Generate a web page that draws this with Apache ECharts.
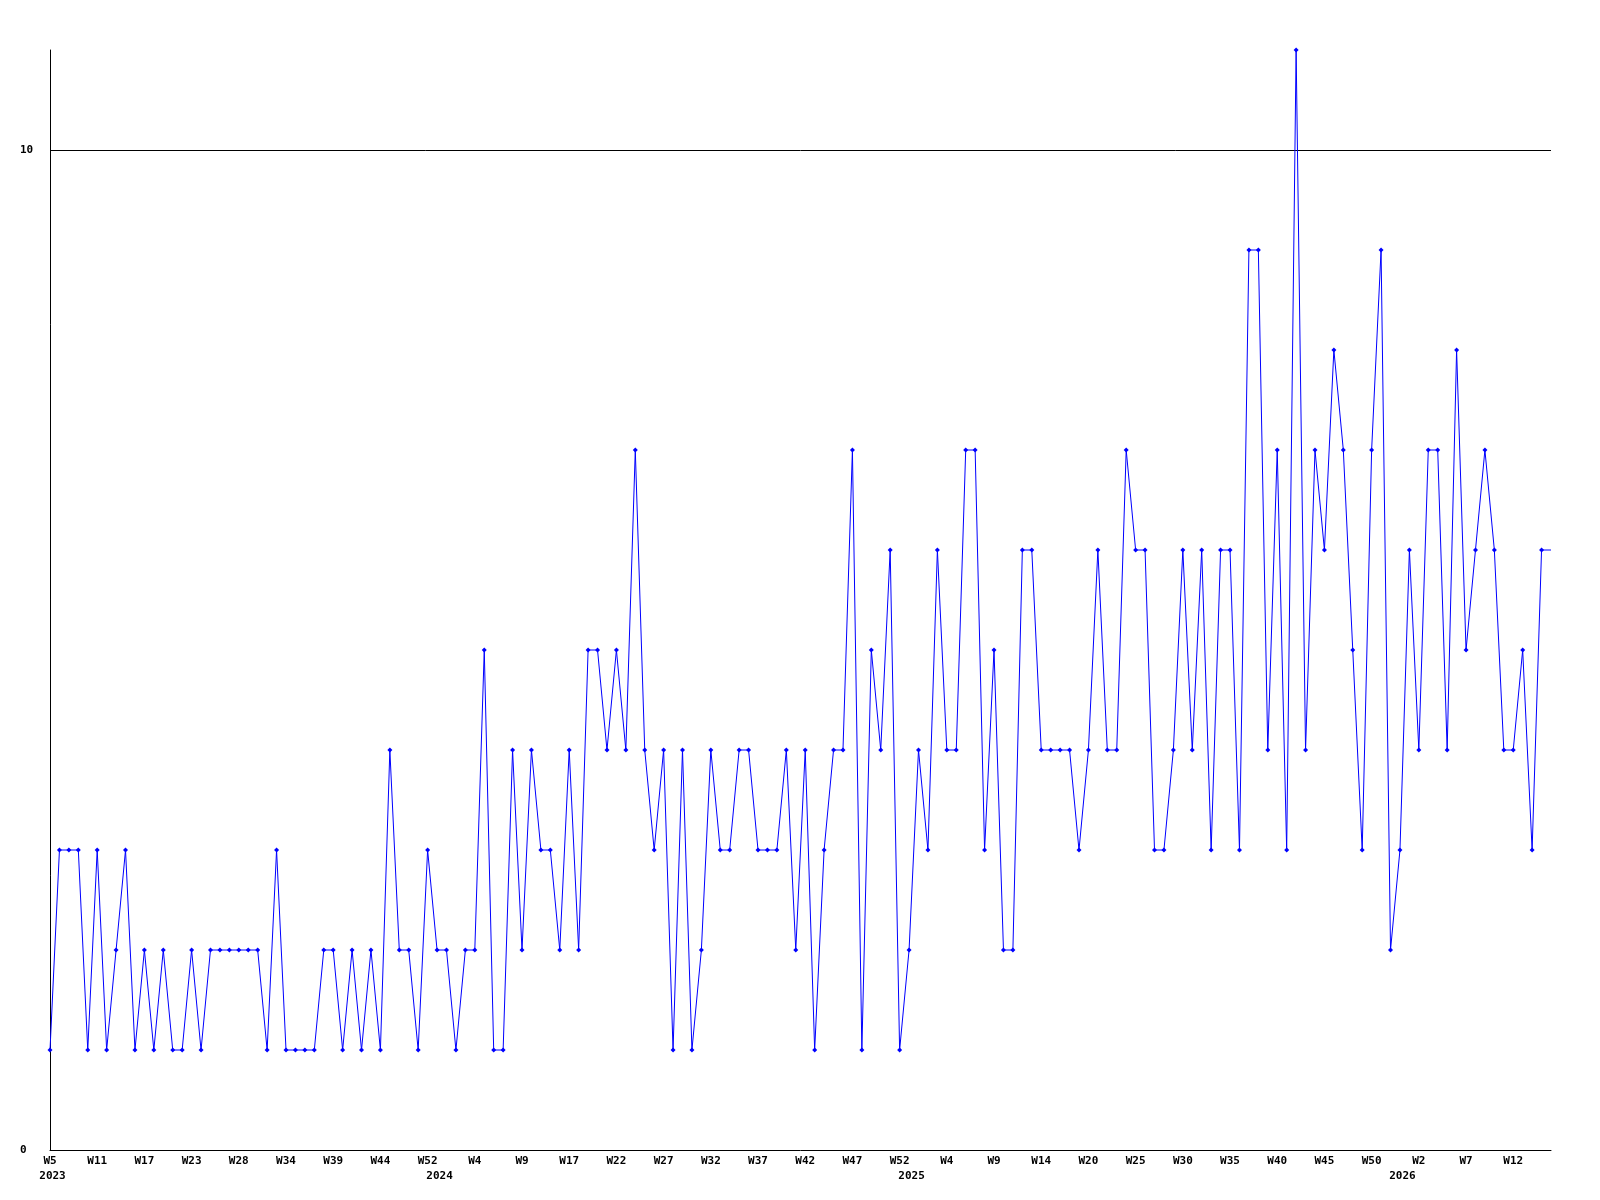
<!DOCTYPE html>
<html>
<head>
<meta charset="utf-8">
<script src="https://cdn.jsdelivr.net/npm/echarts@6/dist/echarts.min.js"></script>
<style>
html,body{margin:0;padding:0;background:#fff;}
#chart{width:1600px;height:1200px;}
</style>
</head>
<body>
<div id="chart"></div>
<script>
// Categories: one per data point ("YYYY-Www")
const categories = [
  "2023-W5","2023-W6","2023-W7","2023-W9","2023-W10",
  "2023-W11","2023-W12","2023-W13","2023-W15","2023-W16",
  "2023-W17","2023-W18","2023-W19","2023-W21","2023-W22",
  "2023-W23","2023-W24","2023-W25","2023-W26","2023-W27",
  "2023-W28","2023-W29","2023-W30","2023-W32","2023-W33",
  "2023-W34","2023-W35","2023-W36","2023-W37","2023-W38",
  "2023-W39","2023-W40","2023-W41","2023-W42","2023-W43",
  "2023-W44","2023-W46","2023-W48","2023-W49","2023-W51",
  "2023-W52","2024-W0","2024-W1","2024-W2","2024-W3",
  "2024-W4","2024-W5","2024-W6","2024-W7","2024-W8",
  "2024-W9","2024-W10","2024-W12","2024-W14","2024-W15",
  "2024-W17","2024-W18","2024-W19","2024-W20","2024-W21",
  "2024-W22","2024-W23","2024-W24","2024-W25","2024-W26",
  "2024-W27","2024-W28","2024-W29","2024-W30","2024-W31",
  "2024-W32","2024-W33","2024-W34","2024-W35","2024-W36",
  "2024-W37","2024-W38","2024-W39","2024-W40","2024-W41",
  "2024-W42","2024-W43","2024-W44","2024-W45","2024-W46",
  "2024-W47","2024-W48","2024-W49","2024-W50","2024-W51",
  "2024-W52","2025-W0","2025-W1","2025-W2","2025-W3",
  "2025-W4","2025-W5","2025-W6","2025-W7","2025-W8",
  "2025-W9","2025-W10","2025-W11","2025-W12","2025-W13",
  "2025-W14","2025-W15","2025-W16","2025-W18","2025-W19",
  "2025-W20","2025-W21","2025-W22","2025-W23","2025-W24",
  "2025-W25","2025-W26","2025-W27","2025-W28","2025-W29",
  "2025-W30","2025-W31","2025-W32","2025-W33","2025-W34",
  "2025-W35","2025-W36","2025-W37","2025-W38","2025-W39",
  "2025-W40","2025-W41","2025-W42","2025-W43","2025-W44",
  "2025-W45","2025-W46","2025-W47","2025-W48","2025-W49",
  "2025-W50","2025-W51","2025-W52","2026-W0","2026-W1",
  "2026-W2","2026-W3","2026-W4","2026-W5","2026-W6",
  "2026-W7","2026-W8","2026-W9","2026-W10","2026-W11",
  "2026-W12","2026-W13","2026-W14","2026-W15","2026-W16"
];

// Weekly counts
const values = [
  1,3,3,3,1, 3,1,2,3,1,
  2,1,2,1,1, 2,1,2,2,2,
  2,2,2,1,3, 1,1,1,1,2,
  2,1,2,1,2, 1,4,2,2,1,
  3,2,2,1,2, 2,5,1,1,4,
  2,4,3,3,2, 4,2,5,5,4,
  5,4,7,4,3, 4,1,4,1,2,
  4,3,3,4,4, 3,3,3,4,2,
  4,1,3,4,4, 7,1,5,4,6,
  1,2,4,3,6, 4,4,7,7,3,
  5,2,2,6,6, 4,4,4,4,3,
  4,6,4,4,7, 6,6,3,3,4,
  6,4,6,3,6, 6,3,9,9,4,
  7,3,11,4,7, 6,8,7,5,3,
  7,9,2,3,6, 4,7,7,4,8,
  5,6,7,6,4, 4,5,3,6,6
];

// Y axis tick values shown
const yTicks = [0, 10];

const weekOf = c => c.split('-')[1];
const yearOf = c => c.split('-')[0];

const labelFont = {
  fontFamily: '"DejaVu Sans Mono", monospace',
  fontWeight: 'bold',
  fontSize: 11,
  color: '#000'
};

const seriesData = values.map((v, i) =>
  i === values.length - 1 ? { value: v, symbol: 'none' } : v
);

const chart = echarts.init(document.getElementById('chart'), null, { renderer: 'canvas' });
chart.setOption({
  animation: false,
  backgroundColor: '#fff',
  grid: { left: 50, right: 49, top: 50, bottom: 50, containLabel: false },
  xAxis: [
    {
      type: 'category',
      data: categories,
      boundaryGap: false,
      axisLine: { show: true, lineStyle: { color: '#000', width: 1 } },
      axisTick: { show: false },
      splitLine: { show: false },
      axisLabel: Object.assign({
        interval: 4,
        margin: 6,
        formatter: v => weekOf(v)
      }, labelFont)
    },
    {
      type: 'category',
      data: categories,
      boundaryGap: false,
      position: 'bottom',
      axisLine: { show: false },
      axisTick: { show: false },
      splitLine: { show: false },
      axisLabel: Object.assign({
        margin: 21,
        padding: [0, 0, 0, 5],
        interval: (idx) => idx === 0 || yearOf(categories[idx]) !== yearOf(categories[idx - 1]),
        formatter: v => yearOf(v)
      }, labelFont)
    }
  ],
  yAxis: {
    type: 'value',
    min: 0,
    max: 11,
    interval: 10,
    axisLine: { show: true, lineStyle: { color: '#000', width: 1 } },
    axisTick: { show: false },
    splitLine: { show: true, showMinLine: false, showMaxLine: false, lineStyle: { color: '#000', width: 1 } },
    axisLabel: Object.assign({
      align: 'left',
      margin: 30,
      showMaxLabel: false,
      formatter: v => (yTicks.indexOf(v) >= 0 ? String(v) : '')
    }, labelFont)
  },
  series: [{
    type: 'line',
    xAxisIndex: 0,
    data: seriesData,
    symbol: 'diamond',
    symbolSize: 5,
    showAllSymbol: true,
    clip: false,
    lineStyle: { color: '#0000ff', width: 1 },
    itemStyle: { color: '#0000ff' },
    z: 3
  }]
});
</script>
</body>
</html>
